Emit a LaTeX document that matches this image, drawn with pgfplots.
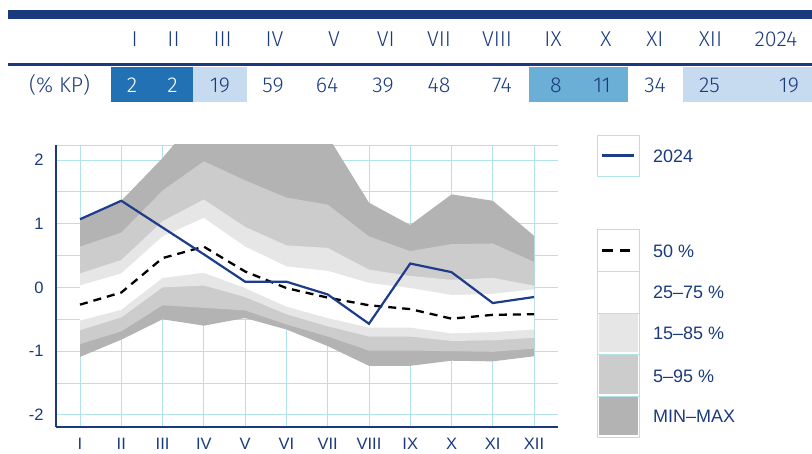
\documentclass[border=0pt]{standalone}
\usepackage{fontspec}
\setmainfont{Liberation Sans}
\newfontfamily\tabfont{Fira Sans Light}
\usepackage{pgfplots}
\usepackage{pgfplotstable}
\pgfplotsset{compat=1.18}
\usepgfplotslibrary{fillbetween}
\definecolor{navy}{RGB}{27,58,125}
\definecolor{gridc}{RGB}{178,226,234}
\definecolor{gmax}{RGB}{179,179,179}
\definecolor{g95}{RGB}{204,204,204}
\definecolor{g85}{RGB}{230,230,230}
\definecolor{cdark}{RGB}{34,113,181}
\definecolor{cmed}{RGB}{107,174,214}
\definecolor{clight}{RGB}{198,219,239}
\definecolor{line24}{RGB}{30,60,140}

\pgfplotstableread{
x max p95 p85 p75 p25 p15 p5 min med y24
1 1.07 0.64 0.22 0.03 -0.52 -0.67 -0.89 -1.09 -0.27 1.07
2 1.36 0.86 0.43 0.22 -0.35 -0.47 -0.69 -0.82 -0.08 1.36
3 2.03 1.52 1.04 0.80 0.15 0.00 -0.28 -0.50 0.46 0.94
4 2.80 1.98 1.38 1.09 0.23 0.03 -0.32 -0.60 0.64 0.52
5 2.60 1.68 0.95 0.64 -0.01 -0.15 -0.36 -0.48 0.25 0.09
6 2.50 1.41 0.66 0.33 -0.30 -0.42 -0.58 -0.66 -0.01 0.09
7 2.38 1.30 0.62 0.26 -0.48 -0.61 -0.77 -0.92 -0.16 -0.11
8 1.33 0.80 0.28 0.07 -0.63 -0.77 -0.99 -1.23 -0.28 -0.57
9 0.98 0.57 0.18 -0.01 -0.63 -0.77 -0.99 -1.23 -0.34 0.375
10 1.46 0.68 0.12 -0.12 -0.72 -0.84 -1.00 -1.15 -0.49 0.24
11 1.36 0.69 0.15 -0.10 -0.70 -0.83 -1.01 -1.16 -0.43 -0.245
12 0.81 0.40 0.03 -0.03 -0.66 -0.79 -0.96 -1.08 -0.42 -0.15
}\bands

\begin{document}
\begin{tikzpicture}
\path (0pt,0pt) rectangle (812pt,-452pt);
% ---- header table ----
\begin{scope}[x=1pt,y=1pt]
\fill[navy] (8,-10) rectangle (812,-19);
\fill[navy] (8,-63) rectangle (812,-66);
\fill[cdark] (111,-67) rectangle (193,-102);
\fill[clight] (193,-67) rectangle (247,-102);
\fill[cmed] (529,-67) rectangle (628,-102);
\fill[clight] (683,-67) rectangle (812,-102);
\begin{scope}[every node/.style={anchor=base, inner sep=0pt, text=navy, font=\tabfont\fontsize{21.5}{21.5}\selectfont}]
\foreach \xx/\tt in {134.6/I,173.5/II,222.7/III,274.5/IV,334/V,385.8/VI,439/VII,497/VIII,553/IX,606/X,655/XI,710.5/XII,776/2024}
  \node at (\xx,-46.5) {\tt};
\node at (59.6,-93) {(\% KP)};
\node[text=white] at (132,-93) {2};
\node[text=white] at (172.5,-93) {2};
\foreach \xx/\tt in {220/19,273/59,327/64,383/39,439/48,502/74,556/8,602/11,655/34,709.5/25,789/19}
  \node at (\xx,-93) {\tt};
\end{scope}
\end{scope}
% ---- chart ----
\begin{axis}[
  at={(56pt,-427pt)}, anchor=south west,
  scale only axis, width=502pt, height=282pt,
  xmin=0.4185, xmax=12.58, ymin=-2.19, ymax=2.235,
  axis lines=left, axis line style={navy, line width=2.6pt, -},
  xtick={1,...,12}, xticklabels={I,II,III,IV,V,VI,VII,VIII,IX,X,XI,XII},
  ytick={-2,-1,0,1,2}, yticklabels={-2,-1,0,1,2},
  minor ytick={-1.5,-0.5,0.5,1.5},
  extra y ticks={2.235}, extra y tick labels={},
  extra y tick style={grid=major, major tick length=0pt},
  grid=both,
  major grid style={gridc, line width=0.9pt},
  minor grid style={gridc, line width=0.9pt},
  major tick length=0pt, minor tick length=0pt,
  tick label style={font=\fontsize{16.5}{16.5}\selectfont, text=navy},
  yticklabel style={xshift=-9pt},
  xticklabel style={yshift=-8pt},
  every axis plot/.append style={mark=none},
]
\addplot[draw=none, name path=pmax] table[x=x,y=max]{\bands};
\addplot[draw=none, name path=p95] table[x=x,y=p95]{\bands};
\addplot[draw=none, name path=p85] table[x=x,y=p85]{\bands};
\addplot[draw=none, name path=p75] table[x=x,y=p75]{\bands};
\addplot[draw=none, name path=p25] table[x=x,y=p25]{\bands};
\addplot[draw=none, name path=p15] table[x=x,y=p15]{\bands};
\addplot[draw=none, name path=p5] table[x=x,y=p5]{\bands};
\addplot[draw=none, name path=pmin] table[x=x,y=min]{\bands};
\addplot[fill=gmax, draw=none] fill between[of=pmax and pmin];
\addplot[fill=g95, draw=none] fill between[of=p95 and p5];
\addplot[fill=g85, draw=none] fill between[of=p85 and p15];
\addplot[fill=white, draw=none] fill between[of=p75 and p25];
\addplot[black, line width=2.3pt, dash pattern=on 8pt off 6pt] table[x=x,y=med]{\bands};
\addplot[line24, line width=2.2pt] table[x=x,y=y24]{\bands};
\end{axis}
% ---- legend ----
\begin{scope}[x=1pt,y=1pt,every node/.style={anchor=base west, inner sep=0pt, text=navy, font=\fontsize{18}{18}\selectfont}]
\draw[gridc, line width=0.9pt] (597,-135) rectangle (639,-176);
\draw[line24, line width=2.2pt] (602,-155.5) -- (634,-155.5);
\node at (653,-163) {2024};
\fill[g85] (598.5,-314.5) rectangle (637.5,-352.5);
\fill[g95] (598.5,-355.5) rectangle (637.5,-394.5);
\fill[gmax] (598.5,-397.5) rectangle (637.5,-435.5);
\foreach \a/\b in {229/271,271/313,313/354,354/396,396/437}
  \draw[gridc, line width=0.9pt] (597,-\a) rectangle (639,-\b);
\draw[black, line width=2.3pt, dash pattern=on 11pt off 7pt] (602,-250.5) -- (630,-250.5);
\node at (653,-258) {50 \%};
\node at (653,-298.5) {25–75 \%};
\node at (653,-339.5) {15–85 \%};
\node at (653,-382.5) {5–95 \%};
\node at (653,-423) {MIN–MAX};
\end{scope}
\end{tikzpicture}
\end{document}
